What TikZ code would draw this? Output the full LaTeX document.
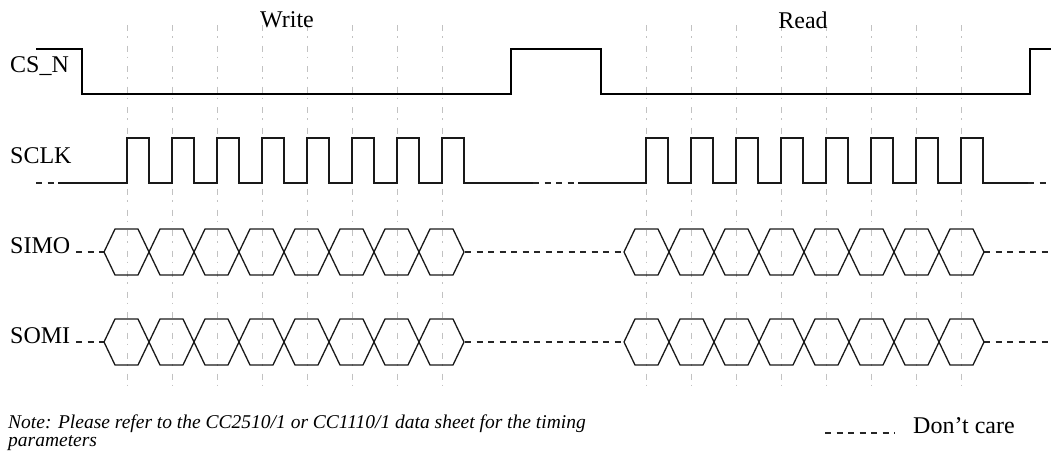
\documentclass[tikz,border=0pt]{standalone}
\usepackage{fontspec}
\setmainfont{Liberation Serif}
\begin{document}
\begin{tikzpicture}[x=1pt,y=-1pt,
  grid/.style={draw=black!24, line width=0.9pt, dash pattern=on 6pt off 5pt on 1.5pt off 8pt},
  wave/.style={draw=black!90, line width=1.3pt, line join=miter},
  csline/.style={draw=black, line width=1.6pt},
  dontcare/.style={draw=black!85, line width=1.1pt, dash pattern=on 6pt off 5.5pt},
  lbl/.style={font=\fontsize{24}{28}\selectfont, inner sep=0pt, anchor=base west},
  ttl/.style={font=\fontsize{24}{28}\selectfont, inner sep=0pt, anchor=base},
  note/.style={font=\fontsize{19.5}{22}\selectfont\itshape, inner sep=0pt, anchor=base west}]
\useasboundingbox (0,0) rectangle (1051,458);

% clock grid lines
\foreach \x in {127,172,...,442,646,691,...,961}
  \draw[grid] (\x,25) -- (\x,385);

% titles and signal names
\node[ttl] (write) at (287,27) {Write};
\node[ttl] (read) at (803,28) {Read};
\node[lbl] (csn) at (10,72) {CS\_N};
\node[lbl] (sclk) at (10,163) {SCLK};
\node[lbl] (simo) at (10,253) {SIMO};
\node[lbl] (somi) at (10,343) {SOMI};

% CS_N
\draw[csline] (36,49) -- (82,49) -- (82,94) -- (511,94) -- (511,49) -- (601,49)
  -- (601,94) -- (1030,94) -- (1030,49) -- (1051,49);

% SCLK
\draw[dontcare] (36,183) -- (58,183);
\draw[wave] (58,183) -- (127,183)
  \foreach \x in {127,172,...,442} { -- (\x,183) -- (\x,138) -- (\x+22,138) -- (\x+22,183) }
  -- (533,183);
\draw[dontcare] (533,183) -- (578,183);
\draw[wave] (578,183)
  \foreach \x in {646,691,...,961} { -- (\x,183) -- (\x,138) -- (\x+22,138) -- (\x+22,183) }
  -- (1028,183);
\draw[dontcare] (1028,183) -- (1051,183);

% data buses: two 8-bit bursts each, seven bit transitions per burst
\foreach \yc/\nm in {252/simo,342/somi}{
  \draw[dontcare] (76,\yc) -- (104,\yc);
  \draw[dontcare] (465,\yc) -- (624,\yc);
  \draw[dontcare] (984,\yc) -- (1051,\yc);
  \foreach \L in {104,624}{
    \foreach \s in {-1,1}{
      \draw[wave] (\L,\yc) -- (\L+11,\yc+23*\s)
        \foreach \k in {0,2,4}{
          -- (\L+34+45*\k,\yc+23*\s) -- (\L+56+45*\k,\yc-23*\s)
          -- (\L+79+45*\k,\yc-23*\s) -- (\L+101+45*\k,\yc+23*\s) }
        -- (\L+304,\yc+23*\s) -- (\L+326,\yc-23*\s)
        -- (\L+349,\yc-23*\s) -- (\L+360,\yc);
    }
  }
}

% footnote and legend
\node[note] (note1) at (8,428) {Note: Please refer to the CC2510/1 or CC1110/1 data sheet for the timing};
\node[note] (note2) at (8,446) {parameters};
\coordinate (legA) at (825,433);
\coordinate (legB) at (895,433);
\draw[dontcare] (legA) -- (legB);
\node[lbl] (dc) at (913,433) {Don’t care};
\end{tikzpicture}
\end{document}
